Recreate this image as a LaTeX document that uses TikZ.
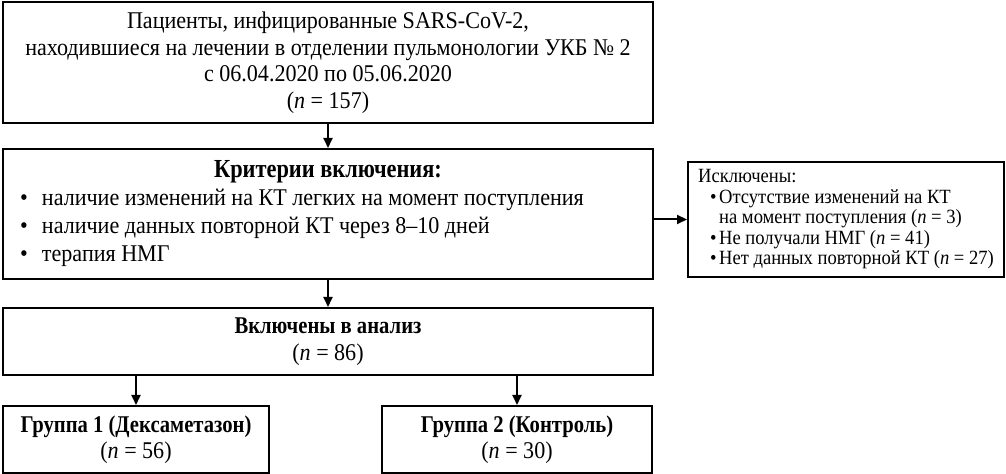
\documentclass[tikz,border=0pt]{standalone}
\usepackage{fontspec}
\setmainfont{Liberation Serif}[FakeStretch=0.92, BoldFeatures={FakeStretch=0.86}]
\usetikzlibrary{arrows.meta}
\newcommand{\bul}[1]{\makebox[#1][l]{\textbullet}}
\begin{document}
\begin{tikzpicture}[
   box/.style={draw, line width=1pt, inner sep=0pt, align=center,
     font=\fontsize{12}{13.25}\selectfont},
   wide/.style={box, minimum width=325pt},
   arr/.style={line width=1pt, -{Triangle[length=5pt,width=4.5pt]}}
 ]
   \useasboundingbox (0,0) rectangle (503pt,-237pt);

   \node[wide, minimum height=60.5pt] (top) at (164pt,-31.25pt)
     {Пациенты, инфицированные SARS-CoV-2,\\
      находившиеся на лечении в отделении пульмонологии УКБ № 2\\
      с 06.04.2020 по 05.06.2020\\
      (\textit{n} = 157)};

   \node[wide, minimum height=65pt, text width=308pt, inner xsep=8.5pt, align=flush left,
     font=\fontsize{12}{14}\selectfont] (crit) at (164pt,-107pt)
     {\centerline{\fontsize{13}{14}\selectfont\textbf{Критерии включения:}}
      \bul{11pt}наличие изменений на КТ легких на момент поступления\\
      \bul{11pt}наличие данных повторной КТ через 8–10 дней\\
      \bul{11pt}терапия НМГ};

   \node[wide, minimum height=33.5pt] (incl) at (164pt,-170.75pt)
     {\textbf{Включены в анализ}\\(\textit{n} = 86)};

   \node[box, minimum width=133pt, minimum height=33.5pt] (grpA) at (68pt,-219.75pt)
     {\textbf{Группа 1 (Дексаметазон)}\\(\textit{n} = 56)};
   \node[box, minimum width=135pt, minimum height=33.5pt] (grpB) at (258.5pt,-219.75pt)
     {\textbf{Группа 2 (Контроль)}\\(\textit{n} = 30)};

   \node[box, minimum width=158pt, minimum height=57.5pt, inner xsep=0pt,
     align=left, font=\fontsize{10.1}{10.25}\selectfont] (excl) at (423pt,-109.75pt)
     {Исключены:\\
      \hspace*{6pt}\bul{4.5pt}Отсутствие изменений на КТ\\
      \hspace*{10.5pt}на момент поступления (\textit{n} = 3)\\
      \hspace*{6pt}\bul{4.5pt}Не получали НМГ (\textit{n} = 41)\\
      \hspace*{6pt}\bul{4.5pt}Нет данных повторной КТ (\textit{n} = 27)};

   \draw[arr] (top) -- (crit);
   \draw[arr] (crit) -- (incl);
   \draw[arr] (crit.east |- excl.west) -- (excl.west);
   \draw[arr] (incl.south -| grpA) -- (grpA.north);
   \draw[arr] (incl.south -| grpB) -- (grpB.north);

 \end{tikzpicture}
\end{document}
